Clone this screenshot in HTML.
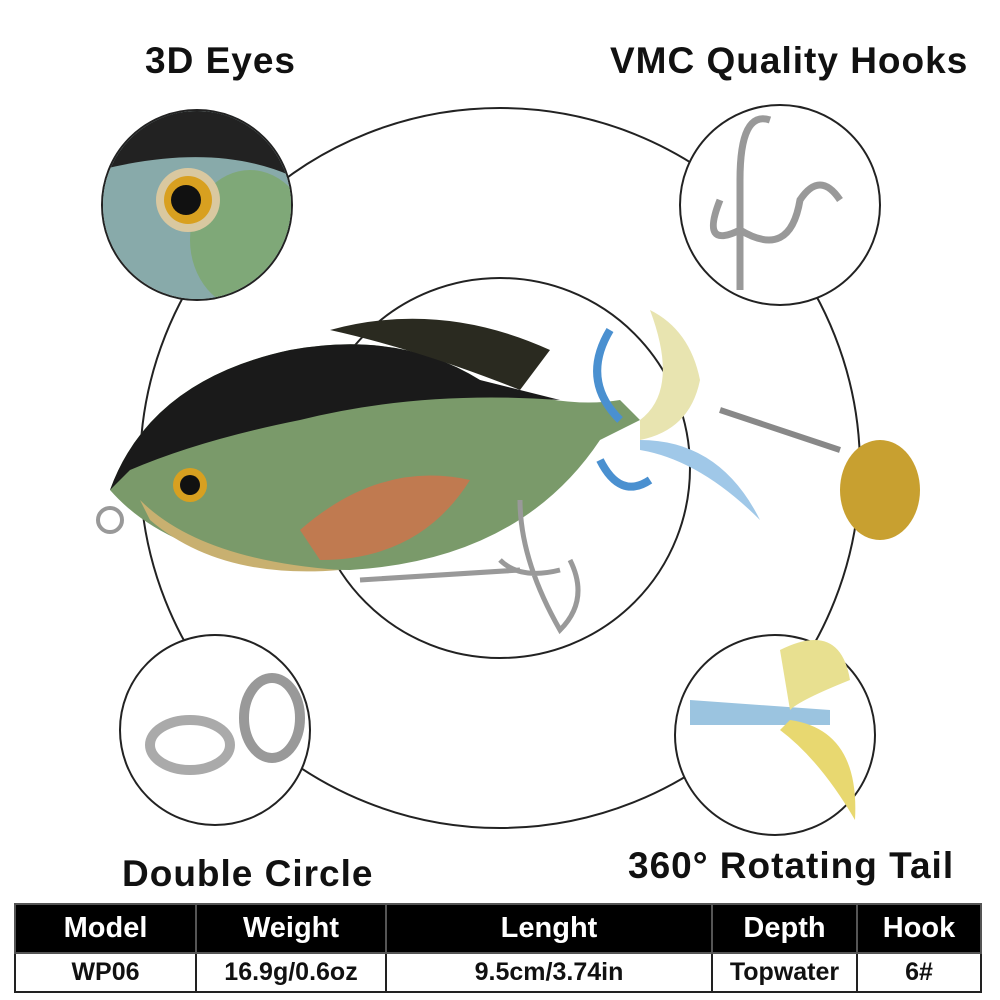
<!DOCTYPE html>
<html><head><style>
body{margin:0;width:1000px;height:1000px;background:#fff;position:relative;overflow:hidden;font-family:"Liberation Sans",sans-serif}
.t{position:absolute;font-weight:bold;font-size:37px;color:#111;letter-spacing:1px;white-space:nowrap}
table{position:absolute;left:14px;top:903px;width:968px;height:90px;border-collapse:collapse;font-weight:bold;font-size:29px;text-align:center}
td{border:2px solid #222;padding:0}
tr.h td{background:#000;color:#fff;height:47px;border-color:#555}
tr.r td{color:#111;font-size:25px}
</style></head><body>
<svg width="1000" height="1000" style="position:absolute;left:0;top:0">
<circle cx="500" cy="468" r="360" fill="none" stroke="#222" stroke-width="2"/>
<circle cx="500" cy="468" r="190" fill="none" stroke="#222" stroke-width="2"/>
<circle cx="197" cy="205" r="95" fill="#fff" stroke="#222" stroke-width="2"/>
<circle cx="780" cy="205" r="100" fill="#fff" stroke="#222" stroke-width="2"/>
<circle cx="215" cy="730" r="95" fill="#fff" stroke="#222" stroke-width="2"/>
<circle cx="775" cy="735" r="100" fill="#fff" stroke="#222" stroke-width="2"/>
<clipPath id="c1"><circle cx="197" cy="205" r="94"/></clipPath>
<g clip-path="url(#c1)"><rect x="100" y="110" width="200" height="200" fill="#8aa"/>
<path d="M100 110 H300 V180 Q220 140 100 170Z" fill="#222"/>
<ellipse cx="250" cy="240" rx="60" ry="70" fill="#7fa878"/>
<circle cx="188" cy="200" r="32" fill="#d9c8a0"/><circle cx="188" cy="200" r="24" fill="#d8a020"/><circle cx="186" cy="200" r="15" fill="#111"/></g>
<path d="M740 290 V180 Q740 110 770 120 M740 230 Q700 250 720 200 M740 230 Q790 260 800 200 Q820 170 840 200" fill="none" stroke="#999" stroke-width="7"/>
<ellipse cx="190" cy="745" rx="40" ry="25" fill="none" stroke="#aaa" stroke-width="10"/>
<ellipse cx="272" cy="718" rx="28" ry="40" fill="none" stroke="#999" stroke-width="10"/>
<path d="M690 700 L830 710 L830 725 L690 725Z" fill="#9bc4e0"/>
<path d="M780 650 Q840 620 850 680 Q800 700 790 710Z" fill="#e8e090"/>
<path d="M790 720 Q860 730 855 820 Q820 760 780 730Z" fill="#e8d870"/>
<path d="M110 490 Q150 380 290 350 Q400 330 480 380 Q560 410 620 400 L640 420 L600 440 Q520 560 350 570 Q180 570 110 490Z" fill="#7a9a6a"/>
<path d="M110 490 Q150 380 290 350 Q400 330 480 380 L560 400 Q420 390 300 420 Q200 440 130 470Z" fill="#1a1a1a"/>
<path d="M330 330 Q440 300 550 350 L520 390 Q420 350 330 330Z" fill="#2a2a20"/>
<path d="M300 530 Q380 460 470 480 Q420 560 320 560Z" fill="#c07a50"/>
<path d="M140 500 Q200 560 340 570 Q220 580 150 520Z" fill="#c8b070"/>
<circle cx="190" cy="485" r="17" fill="#d8a020"/><circle cx="190" cy="485" r="10" fill="#111"/>
<path d="M520 500 Q520 560 560 630 Q590 600 570 560 M500 560 Q520 580 560 570 M360 580 L520 570" fill="none" stroke="#999" stroke-width="5"/>
<circle cx="110" cy="520" r="12" fill="none" stroke="#999" stroke-width="4"/>
<path d="M640 420 Q680 390 650 310 Q690 330 700 380 Q690 430 640 440Z" fill="#e8e4b0"/>
<path d="M640 440 Q720 440 760 520 Q700 460 640 450Z" fill="#a0c8e8"/>
<path d="M610 330 Q580 380 620 420 M600 460 Q620 500 650 480" fill="none" stroke="#4a90d0" stroke-width="8"/>
<path d="M720 410 L840 450" stroke="#888" stroke-width="6"/>
<ellipse cx="880" cy="490" rx="40" ry="50" fill="#c8a030"/>
</svg>
<div class="t" style="left:145px;top:40px">3D Eyes</div>
<div class="t" style="left:610px;top:40px">VMC Quality Hooks</div>
<div class="t" style="left:122px;top:853px">Double Circle</div>
<div class="t" style="left:628px;top:845px">360° Rotating Tail</div>
<table>
<tr class="h"><td style="width:179px">Model</td><td style="width:188px">Weight</td><td style="width:324px">Lenght</td><td style="width:143px">Depth</td><td>Hook</td></tr>
<tr class="r"><td>WP06</td><td>16.9g/0.6oz</td><td>9.5cm/3.74in</td><td>Topwater</td><td>6#</td></tr>
</table>
</body></html>
